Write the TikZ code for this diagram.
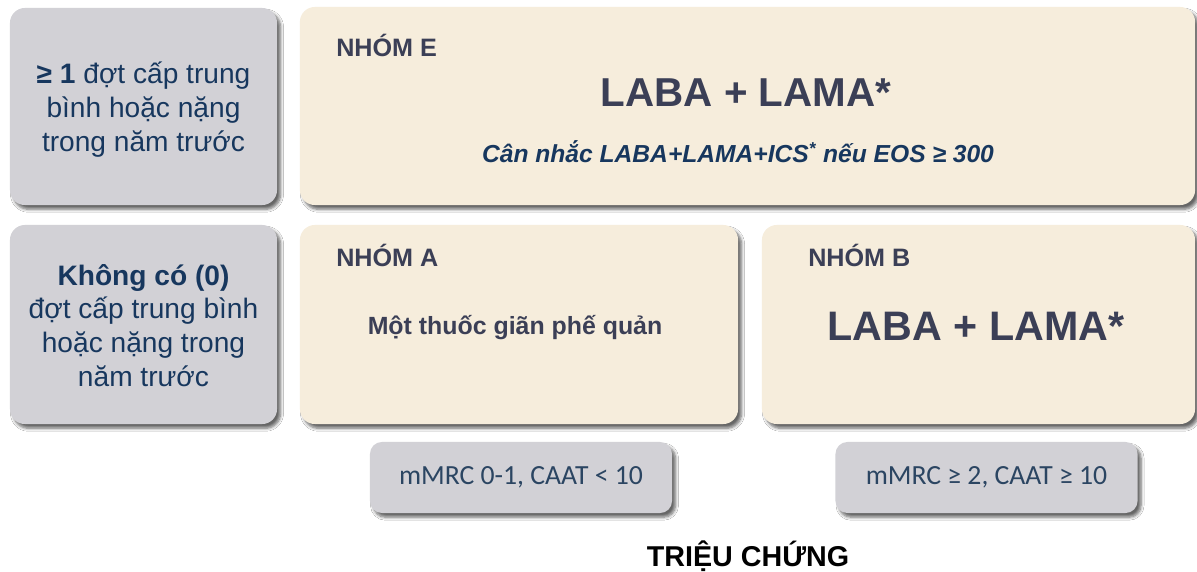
\documentclass[tikz,border=0pt]{standalone}
\usepackage{fontspec}
\setmainfont{Liberation Sans}
\newfontfamily\calib{Carlito}
\usetikzlibrary{shadows.blur}
\definecolor{boxgray}{HTML}{D2D1D6}
\definecolor{cream}{HTML}{F6EDDC}
\definecolor{navy}{HTML}{17375E}
\definecolor{slate}{HTML}{3B3F56}
\definecolor{mtext}{HTML}{2B4562}
\begin{document}
\begin{tikzpicture}[x=0.025cm,y=-0.025cm,
  card/.style={rounded corners=0.375cm, inner sep=0pt,
    blur shadow={shadow xshift=2.5pt, shadow yshift=-3pt, shadow blur steps=6, shadow opacity=60}},
  graycard/.style={card, fill=boxgray},
  creamcard/.style={card, fill=cream},
  smallcard/.style={card, rounded corners=0.3cm, fill=boxgray, minimum width=7.55cm, minimum height=1.775cm},
  lefttext/.style={align=center, text=navy, font=\fontsize{20}{24}\selectfont},
  grouptitle/.style={anchor=west, text=slate, font=\bfseries\fontsize{17.9}{20}\selectfont, inner sep=0pt},
  bigtext/.style={text=slate, font=\bfseries\fontsize{28.7}{32}\selectfont},
  crit/.style={text=mtext, font=\calib\fontsize{19.7}{22}\selectfont}]
\useasboundingbox (0,0) rectangle (1197,572);
\fill[white] (0,0) rectangle (1197,572);

% cards
\node[graycard, minimum width=6.675cm, minimum height=4.925cm] (ltop) at (143.5,106.5) {};
\node[graycard, minimum width=6.675cm, minimum height=4.975cm] (lbot) at (143.5,324.5) {};
\node[creamcard, minimum width=22.375cm, minimum height=4.95cm] (ge) at (747.5,106) {};
\node[creamcard, minimum width=10.95cm, minimum height=4.975cm] (ga) at (519,324.5) {};
\node[creamcard, minimum width=10.825cm, minimum height=4.975cm] (gb) at (978.5,324.5) {};
\node[smallcard] (c1) at (521,477.5) {};
\node[smallcard] (c2) at (986.5,477.5) {};

% left labels
\node[lefttext] (ltoptext) at (143.5,109.5) {\textbf{≥ 1} đợt cấp trung\\bình hoặc nặng\\trong năm trước};
\node[lefttext] (lbottext) at (143.5,325.5) {\textbf{Không có (0)}\\đợt cấp trung bình\\hoặc nặng trong\\năm trước};

% group E
\node[grouptitle] (te) at (336,45) {NHÓM E};
\node[bigtext] (le) at (746,93) {LABA + LAMA*};
\node[text=navy, font=\bfseries\itshape\fontsize{17.5}{20}\selectfont] (ce) at (738,152) {Cân nhắc LABA+LAMA+ICS\textsuperscript{*} nếu EOS ≥ 300};

% group A
\node[grouptitle] (ta) at (336,255) {NHÓM A};
\node[text=slate, font=\bfseries\fontsize{17.7}{20}\selectfont] (da) at (515,328) {Một thuốc giãn phế quản};

% group B
\node[grouptitle] (tb) at (808,255) {NHÓM B};
\node[bigtext, font=\bfseries\fontsize{29.3}{32}\selectfont] (lb) at (976,326) {LABA + LAMA*};

% criteria
\node[crit] (c1t) at (c1.center) {mMRC 0-1, CAAT < 10};
\node[crit] (c2t) at (c2.center) {mMRC ≥ 2, CAAT ≥ 10};

\node[text=black, font=\bfseries\fontsize{20.4}{24}\selectfont] (sym) at (748,556) {TRIỆU CHỨNG};
\end{tikzpicture}
\end{document}
